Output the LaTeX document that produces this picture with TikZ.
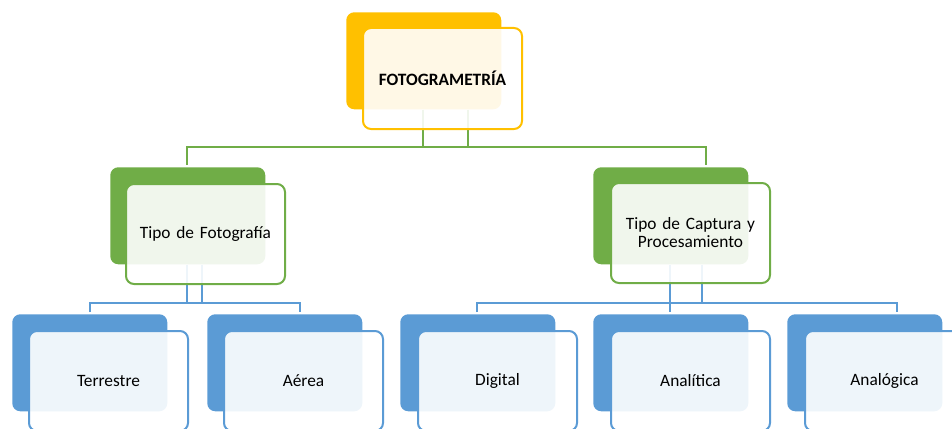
\documentclass[tikz,border=0pt]{standalone}
\usepackage{fontspec}
\setmainfont{Carlito}
\definecolor{cY}{HTML}{FFC000}
\definecolor{cG}{HTML}{70AD47}
\definecolor{cB}{HTML}{5B9BD5}
\tikzset{
  backbox/.style={rectangle, rounded corners=6pt, fill=#1, draw=none, anchor=north west,
    minimum width=116.25pt, minimum height=72.75pt, inner sep=0pt},
  frontbox/.style={rectangle, rounded corners=6pt, fill=white, fill opacity=0.9, text opacity=1,
    draw=#1, line width=1.5pt, anchor=north west, minimum width=119.25pt, minimum height=75pt,
    inner sep=2pt, align=center, font=\fontsize{13}{13.5}\selectfont, text width=110pt},
  conn/.style={draw=#1, line width=1.5pt},
}
\begin{document}
\begin{tikzpicture}[x=0.75pt,y=-0.75pt]
\useasboundingbox (0,0) rectangle (952,428);
% back boxes
\node[backbox=cY] (topB) at (346,12) {};
\node[backbox=cG] (tfB) at (110,167) {};
\node[backbox=cG] (tcB) at (593,167) {};
\node[backbox=cB] (b1B) at (12,314) {};
\node[backbox=cB] (b2B) at (207,314) {};
\node[backbox=cB] (b3B) at (400,314) {};
\node[backbox=cB] (b4B) at (593,314) {};
\node[backbox=cB] (b5B) at (787,314) {};
% junction coordinates
\coordinate (j1) at (423,147);
\coordinate (j2) at (468,147);
\coordinate (jL) at (187,147);
\coordinate (jR) at (706,147);
\coordinate (k1) at (187,303);
\coordinate (k2) at (202,303);
\coordinate (kL) at (90,303);
\coordinate (kR) at (300,303);
\coordinate (m1) at (670,303);
\coordinate (m2) at (702,303);
\coordinate (mL) at (477,303);
\coordinate (mR) at (897,303);
% connectors
\draw[conn=cG] (j1 |- topB.south) -- (j1);
\draw[conn=cG] (j2 |- topB.south) -- (j2);
\draw[conn=cG] ([yshift=1.5pt]jL |- tfB.north) -- (jL) -- (jR) -- ([yshift=1.5pt]jR |- tcB.north);
\draw[conn=cB] (k1 |- tfB.south) -- (k1);
\draw[conn=cB] (k2 |- tfB.south) -- (k2);
\draw[conn=cB] ([yshift=1.5pt]kL |- b1B.north) -- (kL) -- (kR) -- ([yshift=1.5pt]kR |- b2B.north);
\draw[conn=cB] (m1 |- tcB.south) -- ([yshift=1.5pt]m1 |- b4B.north);
\draw[conn=cB] (m2 |- tcB.south) -- (m2);
\draw[conn=cB] ([yshift=1.5pt]mL |- b3B.north) -- (mL) -- (mR) -- ([yshift=1.5pt]mR |- b5B.north);
% front boxes
\node[frontbox=cY, minimum height=75.75pt] (top) at (362,27) {\bfseries FOTOGRAMETRÍA};
\node[frontbox=cG] (tf) at (125,183) {Tipo de Fotografía};
\node[frontbox=cG] (tc) at (610,182) {Tipo de Captura y\\Procesamiento};
\node[frontbox=cB] (b1) at (28,330) {Terrestre};
\node[frontbox=cB] (b2) at (223,330) {Aérea};
\node[frontbox=cB] (b3) at (417,330) {Digital};
\node[frontbox=cB] (b4) at (610,330) {Analítica};
\node[frontbox=cB] (b5) at (804,330) {Analógica};
\end{tikzpicture}
\end{document}
